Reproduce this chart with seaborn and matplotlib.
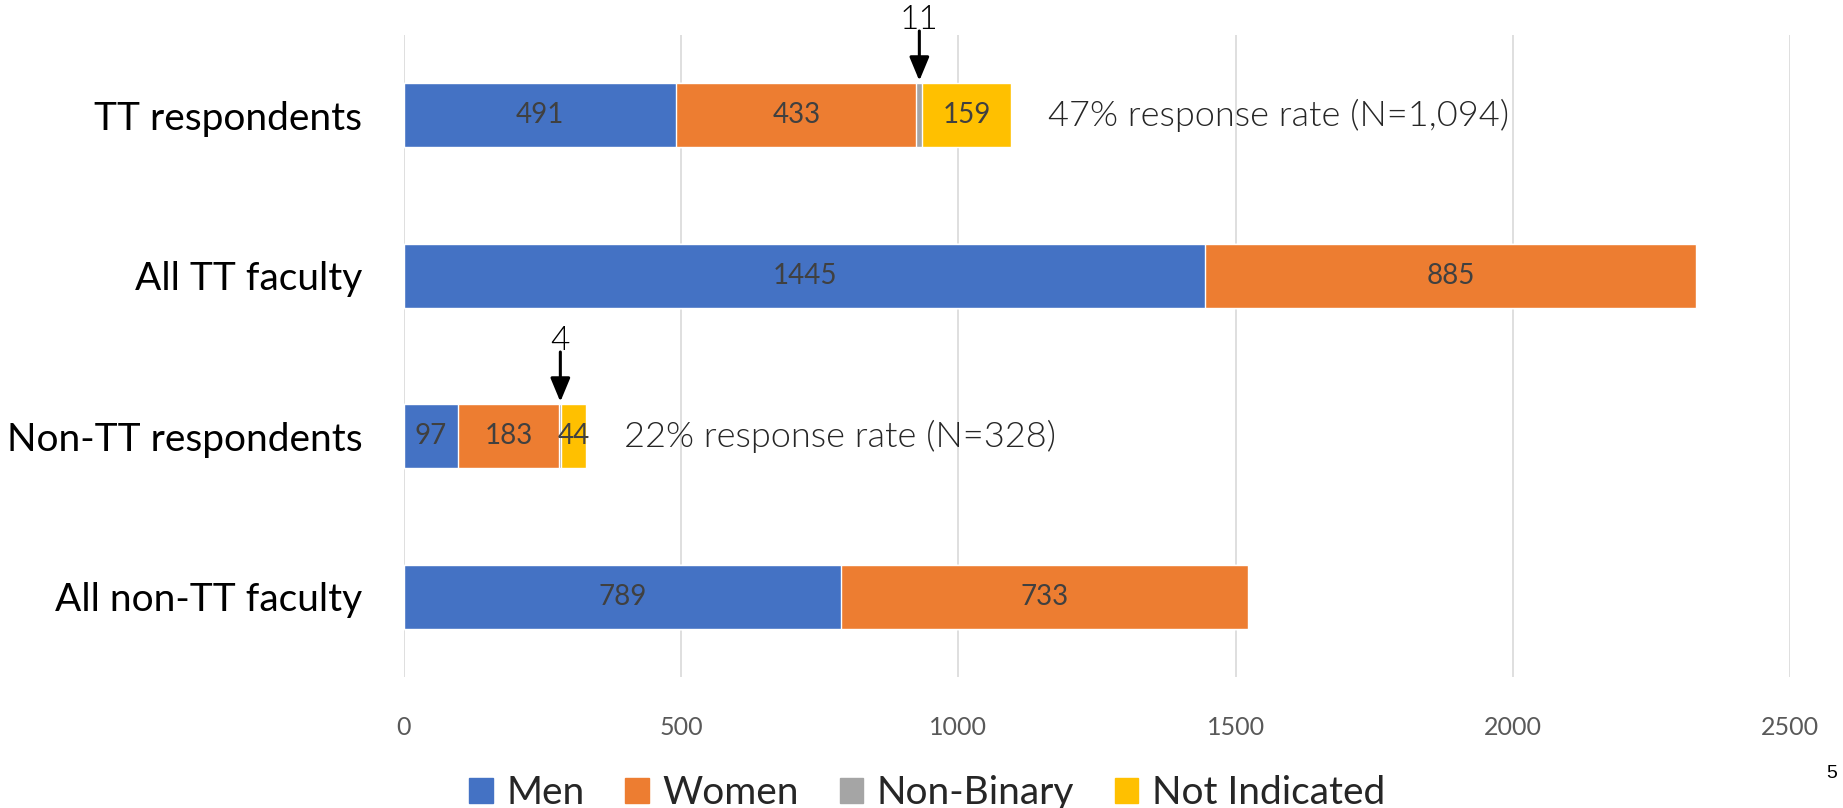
import seaborn as sns
import matplotlib.pyplot as plt
import numpy as np
import pandas as pd

# datos
categorias = ['TT respondents', 'All TT faculty', 'Non-TT respondents', 'All non-TT faculty']
hombres = [491, 1445, 97, 789]
mujeres = [433, 885, 183, 733]
no_binario = [11, 0, 4, 0]
no_indicado = [159, 0, 44, 0]
series = ['Men', 'Women', 'Non-Binary', 'Not Indicated']
colores = ['#4472C4', '#ED7D31', '#A5A5A5', '#FFC000']
tasas = ['47% response rate (N=1,094)', '', '22% response rate (N=328)', '']

sns.set_theme(style='white')
plt.rcParams['font.family'] = ['Lato', 'DejaVu Sans']

valores = np.array([hombres, mujeres, no_binario, no_indicado])
acumulado = valores.cumsum(axis=0)

fig = plt.figure(figsize=(18.43, 8.08), dpi=100)
ax = fig.add_axes([0.2192, 0.1621, 0.7521, 0.7946])

# barras apiladas: se dibuja de la serie final hacia la primera
for i in range(len(series) - 1, -1, -1):
    df = pd.DataFrame({'cat': categorias, 'val': acumulado[i]})
    sns.barplot(data=df, x='val', y='cat', orient='h', color=colores[i],
                saturation=1, width=0.4, edgecolor='white', linewidth=1,
                ax=ax, zorder=3)

ax.set_xlim(0, 2500)
ax.set_ylim(3.5, -0.5)
ax.set_xticks(range(0, 2501, 500))
ax.grid(axis='x', color='#D9D9D9', linewidth=1.2, zorder=0)
ax.grid(axis='y', visible=False)
for s in ax.spines.values():
    s.set_visible(False)
ax.set_xlabel('')
ax.set_ylabel('')
ax.tick_params(axis='x', labelsize=18, labelcolor='#595959', length=0, pad=28)
ax.tick_params(axis='y', labelsize=28, labelcolor='black', length=0, pad=30)

# etiquetas dentro de las barras (Men, Women, Not Indicated)
for j in range(len(categorias)):
    for i in [0, 1, 3]:
        v = valores[i][j]
        if v == 0:
            continue
        centro = acumulado[i][j] - v / 2
        ax.text(centro, j, str(v), ha='center', va='center', fontsize=20,
                color='#404040', zorder=4)

# flechas para Non-Binary
for j in range(len(categorias)):
    v = no_binario[j]
    if v == 0:
        continue
    cx = acumulado[2][j] - v / 2
    ax.annotate('', xy=(cx, j - 0.215), xytext=(cx, j - 0.525),
                arrowprops=dict(arrowstyle='-|>,head_width=0.5,head_length=1.2',
                                color='black', lw=2.2, shrinkA=0, shrinkB=0),
                annotation_clip=False, zorder=5)
    ax.text(cx, j - 0.537, str(v), ha='center', va='baseline', fontsize=24,
            fontweight=300, color='black', clip_on=False)

# tasa de respuesta
for j, t in enumerate(tasas):
    if t:
        ax.text(acumulado[3][j] + 68, j, t, ha='left', va='center', fontsize=26,
                fontweight=300, color='#262626')

manijas = [plt.Rectangle((0, 0), 1, 1, color=c) for c in colores]
fig.legend(manijas, series, loc='center', bbox_to_anchor=(0.503, 0.018), ncol=4,
           frameon=False, fontsize=28, handlelength=0.6, handleheight=0.6,
           handletextpad=0.35, columnspacing=1.05)

fig.text(0.997, 0.043, '5', ha='right', va='center', fontsize=14,
         family='Liberation Sans', color='black')

fig.savefig('out.png', dpi=100)
